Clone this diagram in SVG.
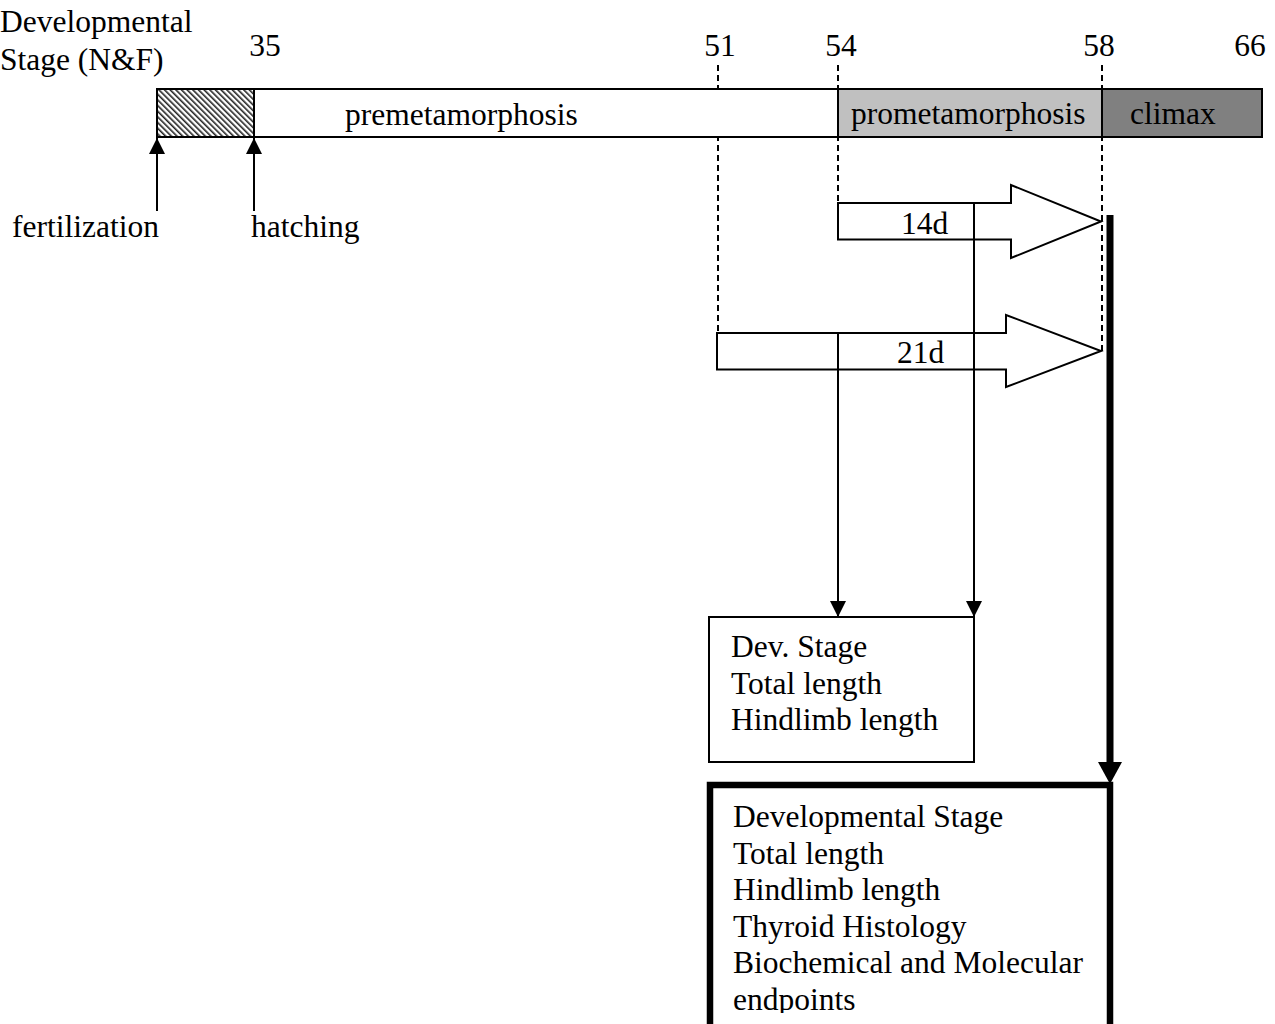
<svg xmlns="http://www.w3.org/2000/svg" width="1275" height="1024" viewBox="0 0 1275 1024">
<style>
text{font-family:"Liberation Serif","Times New Roman",serif;font-size:31.5px;fill:#000}
.bar{stroke:#000;stroke-width:2}
.dash{stroke:#000;stroke-width:2;stroke-dasharray:6 4;fill:none}
.ln{stroke:#000;stroke-width:2;fill:none}
.arr{fill:#fff;stroke:#000;stroke-width:2;stroke-linejoin:miter}
</style>
<defs>
<pattern id="hatch" width="4" height="4" patternUnits="userSpaceOnUse" patternTransform="rotate(-45)">
<rect width="4" height="4" fill="#fff"/>
<rect width="1.6" height="4" fill="#222"/>
</pattern>
<marker id="ah" viewBox="0 0 16 16" refX="16" refY="8" markerWidth="16" markerHeight="16" markerUnits="userSpaceOnUse" orient="auto">
<path d="M0,0 L16,8 L0,16 Z" fill="#000"/>
</marker>
<clipPath id="clipbox"><rect x="700" y="790" width="420" height="223"/></clipPath>
</defs>
<g id="connectors">
<line class="dash" x1="718" y1="65" x2="718" y2="333"/>
<line class="dash" x1="838" y1="65" x2="838" y2="203"/>
<line class="dash" x1="1102" y1="65" x2="1102" y2="351"/>
<line class="ln" x1="157" y1="211" x2="157" y2="138" marker-end="url(#ah)"/>
<line class="ln" x1="254" y1="211" x2="254" y2="138" marker-end="url(#ah)"/>
</g>
<g id="timeline">
<rect class="bar" x="157" y="89" width="97" height="48" fill="url(#hatch)"/>
<rect class="bar" x="254" y="89" width="584" height="48" fill="#fff"/>
<rect class="bar" x="838" y="89" width="264" height="48" fill="#c0c0c0"/>
<rect class="bar" x="1102" y="89" width="160" height="48" fill="#808080"/>
<text x="345" y="125">premetamorphosis</text>
<text x="851" y="124">prometamorphosis</text>
<text x="1130" y="124">climax</text>
</g>
<g id="labels">
<text x="0" y="32">Developmental</text>
<text x="0" y="70">Stage (N&amp;F)</text>
<text x="265" y="56" text-anchor="middle">35</text>
<text x="720" y="56" text-anchor="middle">51</text>
<text x="841" y="56" text-anchor="middle">54</text>
<text x="1099" y="56" text-anchor="middle">58</text>
<text x="1250" y="56" text-anchor="middle">66</text>
<text x="12" y="237">fertilization</text>
<text x="251" y="237">hatching</text>
</g>
<g id="arrow14d">
<path class="arr" d="M838,203 L1011,203 L1011,185 L1101,221.5 L1011,258 L1011,239.5 L838,239.5 Z"/>
<text x="901" y="234">14d</text>
</g>
<g id="arrow21d">
<path class="arr" d="M717,333 L1006,333 L1006,315 L1101,351 L1006,387 L1006,369.5 L717,369.5 Z"/>
<text x="897" y="363">21d</text>
</g>
<g id="connectors2">
<line class="ln" x1="838" y1="333" x2="838" y2="617" marker-end="url(#ah)"/>
<line class="ln" x1="974" y1="203" x2="974" y2="617" marker-end="url(#ah)"/>
<line x1="1110" y1="215" x2="1110" y2="765" stroke="#000" stroke-width="7"/>
<path d="M1098,762 L1122,762 L1110,784 Z" fill="#000"/>
</g>
<g id="box-small">
<rect x="709" y="617" width="265" height="145" fill="#fff" stroke="#000" stroke-width="2"/>
<text x="731" y="657">Dev. Stage</text>
<text x="731" y="693.5">Total length</text>
<text x="731" y="730">Hindlimb length</text>
</g>
<g id="box-large">
<rect x="710" y="785" width="400" height="260" fill="#fff" stroke="#000" stroke-width="6.5"/>
<g clip-path="url(#clipbox)">
<text x="733" y="827">Developmental Stage</text>
<text x="733" y="863.5">Total length</text>
<text x="733" y="900">Hindlimb length</text>
<text x="733" y="936.5">Thyroid Histology</text>
<text x="733" y="973">Biochemical and Molecular</text>
<text x="733" y="1009.5">endpoints</text>
</g>
</g>
</svg>
